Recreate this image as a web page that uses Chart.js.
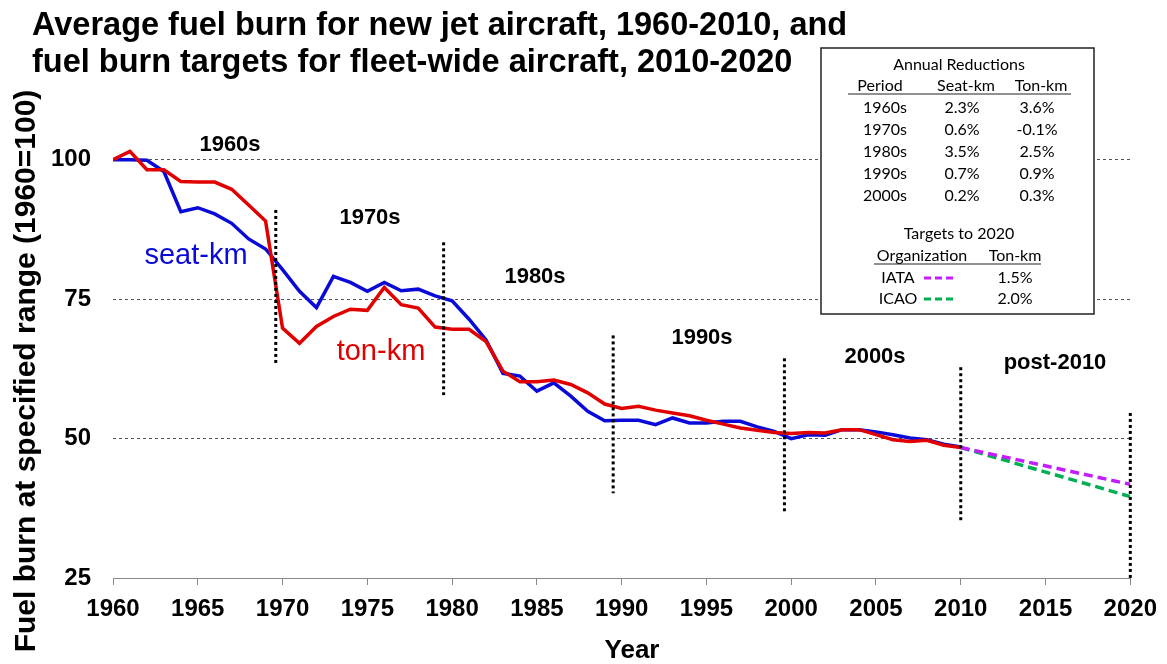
<!DOCTYPE html>
<html lang="en">
<head>
  <meta charset="UTF-8" />
  <title>Fuel burn for new jet aircraft</title>
  <script src="https://cdn.jsdelivr.net/npm/chart.js"></script>
  <style>
    body { margin: 0; background: #ffffff; }
    .wrap { position: relative; width: 1167px; height: 664px; }
  </style>
</head>
<body>
  <div class="wrap">
    <canvas id="fuelChart"></canvas>
  </div>

  <script>
    // years with measured data
    const years = [
      1960, 1961, 1962, 1963, 1964, 1965, 1966, 1967, 1968, 1969,
      1970, 1971, 1972, 1973, 1974, 1975, 1976, 1977, 1978, 1979,
      1980, 1981, 1982, 1983, 1984, 1985, 1986, 1987, 1988, 1989,
      1990, 1991, 1992, 1993, 1994, 1995, 1996, 1997, 1998, 1999,
      2000, 2001, 2002, 2003, 2004, 2005, 2006, 2007, 2008, 2009, 2010
    ];
    const seatKm = [
      100.0, 100.0, 99.9, 97.9, 90.7, 91.4, 90.3, 88.6, 85.8, 84.0,
      80.3, 76.4, 73.5, 79.1, 78.0, 76.4, 78.0, 76.5, 76.8, 75.6,
      74.7, 71.4, 67.7, 61.7, 61.2, 58.5, 60.0, 57.6, 54.9, 53.2,
      53.3, 53.3, 52.5, 53.7, 52.8, 52.8, 53.1, 53.1, 52.1, 51.3,
      50.0, 50.7, 50.6, 51.6, 51.6, 51.2, 50.7, 50.1, 49.8, 49.0, 48.5
    ];
    const tonKm = [
      100.0, 101.5, 98.2, 98.2, 96.1, 96.0, 96.0, 94.7, 91.9, 89.0,
      69.8, 67.1, 70.1, 71.9, 73.2, 73.0, 77.1, 74.0, 73.4, 70.0,
      69.6, 69.6, 67.4, 62.1, 60.2, 60.2, 60.5, 59.7, 58.2, 56.2,
      55.4, 55.8, 55.1, 54.6, 54.1, 53.3, 52.6, 51.9, 51.5, 51.1,
      50.9, 51.1, 51.0, 51.6, 51.6, 50.7, 49.8, 49.5, 49.7, 48.8, 48.4
    ];

    // fleet-wide targets 2010-2020
    const targetYears = [2010, 2020];
    const iataTarget = [48.4, 41.8];
    const icaoTarget = [48.4, 39.6];

    // dotted decade dividers
    const dividerYears = [1969.6, 1979.5, 1989.5, 1999.6, 2010, 2020];
    const dividerTop = [91.0, 85.2, 68.5, 64.4, 62.8, 54.6];
    const dividerBottom = [63.5, 57.8, 40.2, 36.6, 35.1, 25.0];

    const decadeLabels = ["1960s", "1970s", "1980s", "1990s", "2000s", "post-2010"];

    // table in the box
    const periods = ["1960s", "1970s", "1980s", "1990s", "2000s"];
    const seatReductions = ["2.3%", "0.6%", "3.5%", "0.7%", "0.2%"];
    const tonReductions = ["3.6%", "-0.1%", "2.5%", "0.9%", "0.3%"];
    const targetOrgs = ["IATA", "ICAO"];
    const targetRates = ["1.5%", "2.0%"];

    const yTicks = [25, 50, 75, 100];

    const ARIAL = "'Liberation Sans', Arial, sans-serif";
    const BOXFONT = "Lato, 'Open Sans', sans-serif";
    const BLUE = "#0a0ad8";
    const RED = "#e00000";
    const PURPLE = "#c21cff";
    const GREEN = "#00b050";

    const pts = (xs, ys) => xs.map((x, i) => ({ x: x, y: ys[i] }));

    const dividerSets = dividerYears.map((yr, i) => ({
      data: [{ x: yr, y: dividerTop[i] }, { x: yr, y: dividerBottom[i] }],
      borderColor: "#000000",
      borderWidth: 3,
      borderDash: [3, 3],
      pointRadius: 0,
      fill: false,
      clip: false
    }));

    // text placement on the canvas
    const decadePos = [[230, 145], [370, 218], [535, 277], [702, 338], [875, 357], [1055, 363]];

    const textPlugin = {
      id: "textPlugin",
      afterDraw(chart) {
        const ctx = chart.ctx;
        ctx.save();

        // title
        ctx.fillStyle = "#000";
        ctx.textAlign = "left";
        ctx.textBaseline = "alphabetic";
        ctx.font = "bold 32.5px " + ARIAL;
        ctx.fillText("Average fuel burn for new jet aircraft, 1960-2010, and", 32, 35);
        ctx.fillText("fuel burn targets for fleet-wide aircraft, 2010-2020", 32, 72);

        // axis titles
        ctx.font = "bold 26px " + ARIAL;
        ctx.textAlign = "center";
        ctx.textBaseline = "middle";
        ctx.fillText("Year", 632, 651);
        ctx.save();
        ctx.translate(27, 371);
        ctx.rotate(-Math.PI / 2);
        ctx.font = "bold 30px " + ARIAL;
        ctx.fillText("Fuel burn at specified range (1960=100)", 0, 0);
        ctx.restore();

        // decade labels
        ctx.font = "bold 22px " + ARIAL;
        decadeLabels.forEach((t, i) => ctx.fillText(t, decadePos[i][0], decadePos[i][1]));

        // series labels
        ctx.font = "29px " + ARIAL;
        ctx.fillStyle = BLUE;
        ctx.fillText("seat-km", 196, 256);
        ctx.fillStyle = RED;
        ctx.fillText("ton-km", 381, 352);

        // reductions box
        const bx = 821, by = 48, bw = 273, bh = 266;
        ctx.fillStyle = "#fff";
        ctx.fillRect(bx, by, bw, bh);
        ctx.strokeStyle = "#222";
        ctx.lineWidth = 1.5;
        ctx.strokeRect(bx, by, bw, bh);

        ctx.fillStyle = "#000";
        ctx.font = "16px " + BOXFONT;
        ctx.fillText("Annual Reductions", 959, 65);
        ctx.fillText("Period", 880, 86);
        ctx.fillText("Seat-km", 966, 86);
        ctx.fillText("Ton-km", 1041, 86);
        ctx.lineWidth = 1;
        ctx.beginPath();
        ctx.moveTo(848, 94); ctx.lineTo(1071, 94);
        ctx.stroke();
        periods.forEach((p, i) => {
          const ry = 108 + i * 22;
          ctx.fillText(p, 885, ry);
          ctx.fillText(seatReductions[i], 962, ry);
          ctx.fillText(tonReductions[i], 1037, ry);
        });

        ctx.fillText("Targets to 2020", 959, 234);
        ctx.fillText("Organization", 922, 256);
        ctx.fillText("Ton-km", 1015, 256);
        ctx.beginPath();
        ctx.moveTo(874, 264); ctx.lineTo(1041, 264);
        ctx.stroke();
        const swatch = [PURPLE, GREEN];
        targetOrgs.forEach((o, i) => {
          const ry = 278 + i * 21;
          ctx.fillStyle = "#000";
          ctx.fillText(o, 898, ry);
          ctx.fillText(targetRates[i], 1015, ry);
          ctx.strokeStyle = swatch[i];
          ctx.lineWidth = 3;
          ctx.setLineDash([7, 4]);
          ctx.beginPath();
          ctx.moveTo(924, ry); ctx.lineTo(957, ry);
          ctx.stroke();
          ctx.setLineDash([]);
        });

        ctx.restore();
      }
    };

    new Chart(document.getElementById("fuelChart"), {
      type: "line",
      data: {
        datasets: [
          ...dividerSets,
          {
            label: "ton-km",
            data: pts(years, tonKm),
            borderColor: RED,
            borderWidth: 3.5,
            pointRadius: 0,
            tension: 0
          },
          {
            label: "seat-km",
            data: pts(years, seatKm),
            borderColor: BLUE,
            borderWidth: 3.5,
            pointRadius: 0,
            tension: 0
          },
          {
            label: "IATA",
            data: pts(targetYears, iataTarget),
            borderColor: PURPLE,
            borderWidth: 3.5,
            borderDash: [9, 5],
            pointRadius: 0
          },
          {
            label: "ICAO",
            data: pts(targetYears, icaoTarget),
            borderColor: GREEN,
            borderWidth: 3.5,
            borderDash: [9, 5],
            pointRadius: 0
          }
        ]
      },
      options: {
        responsive: true,
        maintainAspectRatio: false,
        animation: false,
        layout: { padding: { top: 104, right: 32, left: 0, bottom: 0 } },
        plugins: {
          legend: { display: false },
          tooltip: { enabled: false },
          title: { display: false }
        },
        scales: {
          x: {
            type: "linear",
            min: 1960,
            max: 2020,
            afterFit: (s) => { s.height = 86; },
            border: { display: true, color: "#888", width: 1 },
            grid: { drawOnChartArea: false, drawTicks: true, tickLength: 7, color: "#888" },
            ticks: {
              stepSize: 5,
              padding: 10,
              color: "#000",
              font: { family: ARIAL, size: 24, weight: "bold" },
              maxRotation: 0,
              callback: (v) => String(v)
            }
          },
          y: {
            min: 25,
            max: 110,
            afterFit: (s) => { s.width = 113; },
            afterBuildTicks: (s) => { s.ticks = yTicks.map(v => ({ value: v })); },
            border: { display: false, dash: [3, 3] },
            grid: {
              drawTicks: false,
              color: (c) => (c.tick && c.tick.value === 25 ? "rgba(0,0,0,0)" : "#555"),
              lineWidth: 1
            },
            ticks: {
              padding: 22,
              color: "#000",
              font: { family: ARIAL, size: 24, weight: "bold" }
            }
          }
        }
      },
      plugins: [textPlugin]
    });
  </script>
</body>
</html>
